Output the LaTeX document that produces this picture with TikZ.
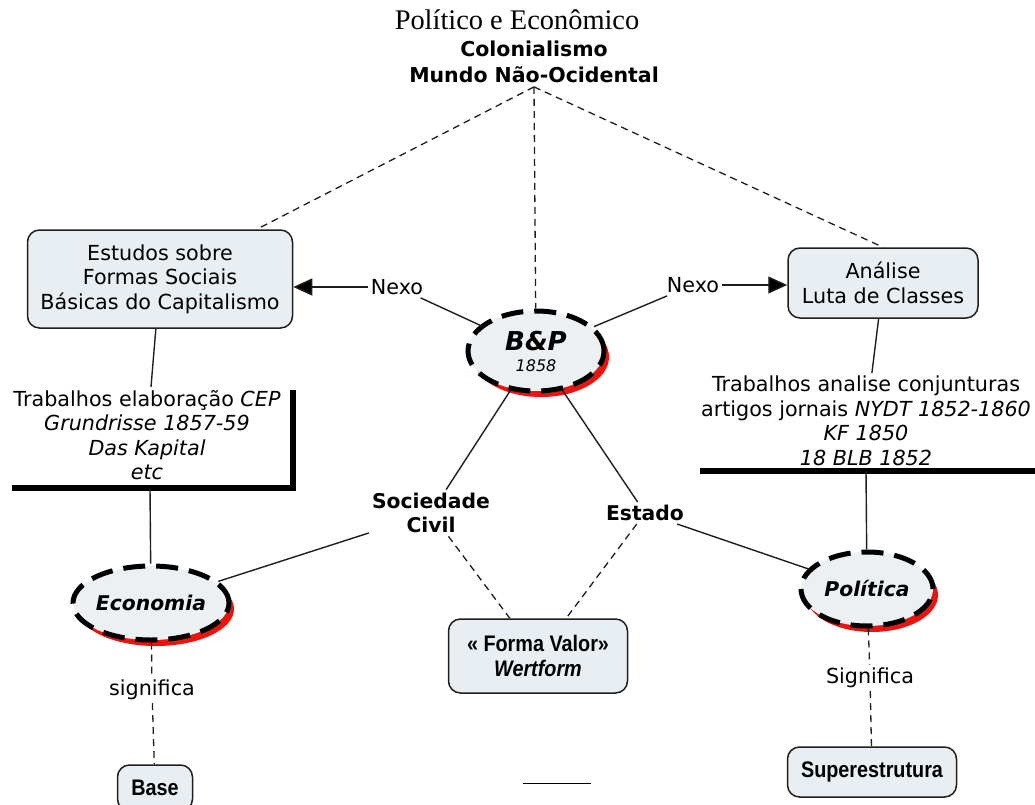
\documentclass[tikz,border=0pt]{standalone}
\usepackage{fontspec}
\setmainfont{DejaVu Sans}
\newfontfamily\tnr{Liberation Serif}
\newfontfamily\narrow[FakeStretch=0.88]{Liberation Sans}
\usetikzlibrary{arrows.meta,shapes.geometric}
\definecolor{boxfill}{HTML}{E8EEF2}
\definecolor{ellfill}{HTML}{EDF0F3}
\definecolor{edge}{HTML}{1E1E1E}
\definecolor{shadowred}{HTML}{E8140F}
\begin{document}
\begin{tikzpicture}[x=1pt,y=-1pt,
  every node/.style={font=\fontsize{20.7}{24.5}\selectfont, inner sep=3pt, text=black},
  cbox/.style={draw=edge, line width=1.5pt, fill=boxfill, rounded corners=12pt, align=center},
  nbox/.style={cbox, font=\narrow\bfseries\fontsize{22.5}{25}\selectfont},
  ell/.style={ellipse, inner sep=0pt, fill=ellfill, draw=black, line width=5pt,
    dash pattern=on 22pt off 11pt,
    preaction={fill=shadowred, transform canvas={shift={(5pt,-6pt)}}},
    font=\fontsize{20.3}{24}\selectfont\bfseries\itshape},
  lbl/.style={align=center},
  blbl/.style={align=center, font=\fontsize{20.3}{24.5}\selectfont\bfseries},
  conn/.style={draw=edge, line width=1.4pt},
  dconn/.style={draw=edge, line width=1.3pt, dash pattern=on 7pt off 5pt},
  arr/.style={conn, -{Triangle[length=19pt,width=17pt,fill=black]}},
  thick/.style={draw=black, line width=6pt}
]
\useasboundingbox (0,0) rectangle (1035,805);

% titles
\node[font=\tnr\fontsize{28.4}{30}\selectfont] (titulo) at (517,20) {Político e Econômico};
\node[align=center, font=\fontsize{20.5}{25.5}\selectfont\bfseries, inner sep=4pt] (colon) at (534,62) {Colonialismo\\Mundo Não-Ocidental};

% concept boxes
\node[cbox, minimum width=265pt, minimum height=98pt] (estudos) at (160,279) {Estudos sobre\\Formas Sociais\\Básicas do Capitalismo};
\node[cbox, minimum width=190pt, minimum height=70pt] (analise) at (883,283) {Análise\\Luta de Classes};
\node[nbox, minimum width=179pt, minimum height=74pt] (forma) at (538,656) {« Forma Valor»\\\itshape Wertform};
\node[nbox, minimum width=75pt, minimum height=46pt] (base) at (155,788) {Base};
\node[nbox, minimum width=169pt, minimum height=50pt] (super) at (872,772) {Superestrutura};

% ellipses
\node[ell, minimum width=136pt, minimum height=80pt, align=center] (bp) at (536,351)
  {{\fontsize{26}{26}\selectfont B\&P}\\[-3pt]{\fontsize{16}{18}\selectfont\mdseries\itshape 1858}};
\node[ell, minimum width=156pt, minimum height=74pt] (eco) at (151,603) {Economia};
\node[ell, minimum width=132pt, minimum height=74pt] (pol) at (867,589) {Política};

% text concepts
\node[lbl] (lefttxt) at (147,435) {Trabalhos elaboração \textit{CEP}\\\textit{Grundrisse 1857-59}\\\textit{Das Kapital}\\\textit{etc}};
\node[lbl] (righttxt) at (866,421) {Trabalhos analise conjunturas\\artigos jornais \textit{NYDT 1852-1860}\\\textit{KF 1850}\\\textit{18 BLB 1852}};

% linking phrases
\node[lbl] (nexoL) at (397,287) {Nexo};
\node[lbl] (nexoR) at (693,285) {Nexo};
\node[blbl] (soc) at (431,513) {Sociedade\\Civil};
\node[blbl] (est) at (645,513) {Estado};
\node[lbl] (sigL) at (152,690) {significa};
\node[lbl] (sigR) at (870,678) {Significa};

% thick borders
\coordinate (lv1) at (293,393);
\coordinate (lcorner) at (293,488);
\coordinate (lh0) at (15,488);
\coordinate (lbot) at (150,488);
\coordinate (rh0) at (700,471);
\coordinate (rh1) at (1035,471);
\coordinate (rbot) at (866,471);
\draw[thick, line cap=rect] (lv1) -- (lcorner) -- (lh0);
\draw[thick] (rh0) -- (rh1);

% dashed from colonialism
\draw[dconn] (colon.south) -- (estudos);
\draw[dconn] (colon.south) -- (bp);
\draw[dconn] (colon.south) -- (analise.north);

% nexo
\draw[conn] (bp) -- (nexoL);
\draw[arr] (nexoL.west) -- (nexoL.west -| estudos.east);
\draw[conn] (bp) -- (nexoR);
\draw[arr] (nexoR.east) -- (nexoR.east -| analise.west);

% boxes to texts
\draw[conn] (estudos) -- (lefttxt);
\draw[conn] (analise) -- (righttxt);
\draw[conn] (lbot) -- (eco);
\draw[conn] (rbot) -- (pol);

% society / state
\draw[conn] (bp) -- (soc);
\draw[conn] (eco) -- (soc);
\draw[conn] (bp) -- (est);
\draw[conn] (est) -- (pol);
\draw[dconn] (soc) -- (forma);
\draw[dconn] (est) -- (forma);

% significa
\draw[dconn] (eco) -- (sigL);
\draw[dconn] (sigL) -- (base);
\draw[dconn] (pol) -- (sigR);
\draw[dconn] (sigR) -- (super);

% stray line
\coordinate (u0) at (523,783);
\coordinate (u1) at (591,783);
\draw[draw=black, line width=1pt] (u0) -- (u1);
\end{tikzpicture}
\end{document}
